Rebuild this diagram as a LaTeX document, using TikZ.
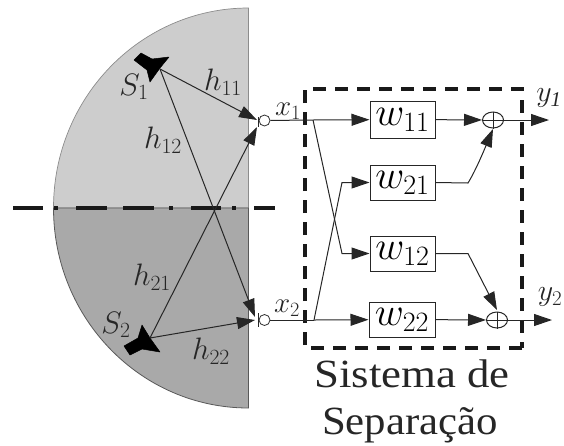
\documentclass[tikz,border=0pt]{standalone}
\usepackage{fix-cm}
\usepackage{fontspec}
\setmainfont{Liberation Serif}
\usetikzlibrary{arrows.meta,shapes.geometric}
\tikzset{
  wire/.style={line width=1pt,draw=black!85},
  arr/.style={wire,-{Triangle[length=18pt,width=12pt]}},
  wbox/.style={draw=black!85,line width=1pt,minimum width=65pt,inner sep=0pt,fill=white},
  mic/.style={circle,draw=black!80,line width=.8pt,fill=white,minimum size=11pt,inner sep=0pt},
  sumnode/.style={ellipse,draw=black!85,line width=1pt,minimum width=21pt,minimum height=16pt,inner sep=0pt},
  lab/.style={inner sep=0pt,text=black!85},
  src/.style={fill=black,draw=black,line join=round,line width=.5pt}
}
\newcommand{\fsz}[1]{\fontsize{#1}{#1}\selectfont}
\definecolor{lightg}{HTML}{CDCDCD}
\definecolor{darkg}{HTML}{A9A9A9}
\begin{document}
\begin{tikzpicture}[x=1pt,y=-1pt]
\useasboundingbox (0,0) rectangle (564,445);
% half discs
\fill[lightg,draw=black!45,line width=.7pt] (248.5,8) arc[start angle=90,end angle=180,x radius=195pt,y radius=200pt] -- (248.5,208) -- cycle;
\fill[darkg,draw=black!65,line width=.8pt] (53.5,208) arc[start angle=180,end angle=270,x radius=195pt,y radius=200pt] -- (248.5,208) -- cycle;
% axis
\coordinate (axL) at (13,208);
\coordinate (axR) at (275,208);
\draw[line width=3.6pt,black!90,dash pattern=on 30pt off 11pt on 4pt off 18pt on 31pt off 16pt on 31pt off 15pt on 4pt off 18pt] (axL) -- (axR);
% sources
\coordinate (S1) at (160,69);
\coordinate (S2) at (150,338);
\fill[src] (134,60) -- (141,53) -- (152,59) -- (169,57) -- (160,68) -- (150,82) -- (147,70) -- cycle;
\fill[src] (124,346) -- (130,355) -- (142,349) -- (160,352) -- (150,338) -- (142,325) -- (138,338) -- cycle;
% microphones
\node[mic] (m1) at (264.5,120.5) {};
\node[mic] (m2) at (264.5,320) {};
\coordinate (t1) at (258,117);\coordinate (b1) at (258,127);
\coordinate (t2) at (258,313);\coordinate (b2) at (258,327);
\draw[wire] (t1) -- (b1);
\draw[wire] (t2) -- (b2);
\coordinate (h11) at (257,120);
\coordinate (h12) at (255,317);
\coordinate (h21) at (257,127);
\coordinate (h22) at (255,320);
\draw[arr] (S1) -- (h11);
\draw[arr] (S1) -- (h12);
\draw[arr] (S2) -- (h21);
\draw[arr] (S2) -- (h22);
% labels left
\node[lab] at (223,82) {\fsz{31}$h_{11}$};
\node[lab] at (163,140) {\fsz{31}$h_{12}$};
\node[lab] at (152,277) {\fsz{31}$h_{21}$};
\node[lab] at (211,351) {\fsz{31}$h_{22}$};
\node[lab] at (134,87) {\fsz{31}$S_1$};
\node[lab] at (116,325) {\fsz{31}$S_2$};
\node[lab] at (288,111) {\fsz{29}$x_1$};
\node[lab] at (287,308) {\fsz{29}$x_2$};
\node[lab] at (549,98) {\fsz{30}$y_{\mathit{1}}$};
\node[lab] at (550,297) {\fsz{30}$y_2$};
% dashed box
\coordinate (dA) at (305,89);
\coordinate (dB) at (522,348);
\draw[line width=3.4pt,black!90,dash pattern=on 13pt off 9pt,line join=miter] (dB) -- (dB -| dA) -- (dA) -- (dA -| dB) -- cycle;
% weights
\node[wbox,minimum height=37pt] (w11) at (402.5,119.5) {\fsz{40}$w_{11}$};
\node[wbox,minimum height=35pt] (w21) at (402.5,182.5) {\fsz{40}$w_{21}$};
\node[wbox,minimum height=35pt] (w12) at (402.5,253.5) {\fsz{40}$w_{12}$};
\node[wbox,minimum height=35pt,minimum width=66pt] (w22) at (402,319.5) {\fsz{40}$w_{22}$};
% sums
\node[sumnode] (s1) at (493,120) {};
\node[sumnode] (s2) at (497,320) {};
\draw[wire] (s1.north) -- (s1.south) (s1.west) -- (s1.east);
\draw[wire] (s2.north) -- (s2.south) (s2.west) -- (s2.east);
% wires
\coordinate (j1) at (313,120);
\coordinate (j2) at (314,320);
\coordinate (k1) at (342,253.5);
\coordinate (k2) at (342,182.5);
\draw[wire] (m1) -- (j1);
\draw[wire] (m2) -- (j2);
\draw[arr] (j1) -- (w11);
\draw[arr] (j2) -- (w22);
\draw[arr] (j1) -- (k1) -- (w12);
\draw[arr] (j2) -- (k2) -- (w21);
\draw[arr] (w11) -- (s1);
\draw[arr] (w22) -- (s2);
\coordinate (c1) at (468,183);
\coordinate (c2) at (468,253.5);
\coordinate (tip1) at (493,129);
\coordinate (tip2) at (497,310);
\draw[arr] (w21.east) -- (c1) .. controls (476,170) and (485,148) .. (tip1);
\draw[arr] (w12.east) -- (c2) -- (tip2);
\coordinate (y1) at (549,120);
\coordinate (y2) at (552,320);
\draw[arr] (s1) -- (y1);
\draw[arr] (s2) -- (y2);
% caption
\node[lab] at (412,374) {\fsz{40}\scalebox{1.12}[1]{Sistema de}};
\node[lab] at (410,425) {\fsz{40}\scalebox{1.07}[1]{Separação}};
\end{tikzpicture}
\end{document}
